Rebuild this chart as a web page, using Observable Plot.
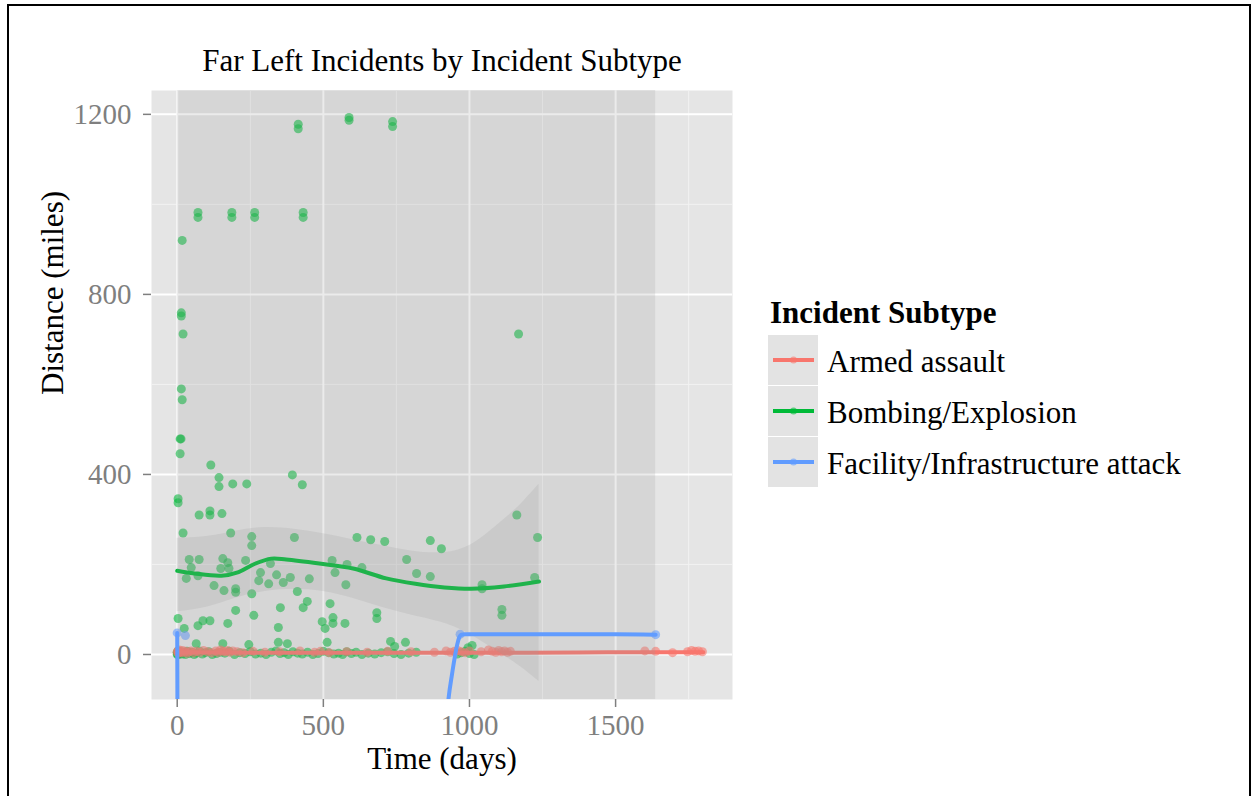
<!DOCTYPE html>
<html>
<head>
<meta charset="utf-8">
<script src="https://cdn.jsdelivr.net/npm/d3@7"></script>
<script src="https://cdn.jsdelivr.net/npm/@observablehq/plot@0.6"></script>
<style>
  html, body { margin: 0; padding: 0; background: #fff; }
  #wrap { position: relative; width: 1257px; height: 796px; overflow: hidden;
          font-family: "Liberation Serif", "Times New Roman", serif; }
  #border { position: absolute; left: 7px; top: 4px; width: 1244px; height: 900px;
            border: 2px solid #000; box-sizing: border-box; }
  #chart { position: absolute; left: 0; top: 0; }
  #legend { position: absolute; left: 760px; top: 280px; }
</style>
</head>
<body>
<div id="wrap">
  <div id="border"></div>
  <div id="chart"></div>
  <div id="legend"></div>
</div>
<script>
// ---------------- data ----------------
const title = "Far Left Incidents by Incident Subtype";
const xTitle = "Time (days)";
const yTitle = "Distance (miles)";
const legendTitle = "Incident Subtype";
const seriesNames = ["Armed assault", "Bombing/Explosion", "Facility/Infrastructure attack"];
const seriesColors = ["#F8766D", "#00BA38", "#619CFF"];

const xTicks = [0, 500, 1000, 1500];
const xMinor = [250, 750, 1250, 1750];
const yTicks = [0, 400, 800, 1200];
const yMinor = [200, 600, 1000];

// Bombing/Explosion points
const greenDays = [
  414, 414, 588, 588, 737, 737, 71, 71, 187, 187, 265, 265, 431, 431, 17,
  14, 14, 20, 14, 17, 10, 13, 10, 115, 143, 143, 190, 238, 394, 428,
  3, 3, 75, 112, 112, 153, 20, 183, 255, 255, 401, 615, 662, 710, 866,
  904, 1162, 1233, 1168, 41, 75, 156, 173, 48, 149, 177, 234, 31, 71, 126,
  160, 200, 200, 255, 285, 279, 313, 340, 319, 363, 785, 530, 581, 540, 632,
  387, 452, 577, 819, 866, 1223, 411, 445, 431, 523, 683, 683, 496, 506, 533,
  533, 574, 1043, 1043, 1111, 1111, 200, 3, 24, 71, 88, 112, 173, 262, 353,
  346, 65, 156, 245, 346, 513, 730, 781, 744, 377, 1009, 995,
  0, 0, 1, 3, 5, 8, 12, 16, 22, 28, 34, 42, 50, 58, 66, 76, 86, 96, 108, 120,
  134, 148, 163, 178, 196, 214, 232, 250, 268, 286, 304, 322, 338, 352, 366, 380, 396, 412, 428, 446,
  464, 482, 500, 518, 536, 552, 566, 580, 596, 612, 632, 654, 676, 698, 720, 742, 766, 792, 818, 958,
  972, 986, 1000, 1016
];
const greenDist = [
  1178, 1168, 1187, 1193, 1173, 1184, 971, 982, 971, 982, 971, 982, 971, 982, 920,
  759, 752, 712, 590, 566, 479, 479, 446, 421, 393, 373, 379, 379, 399, 377,
  346, 337, 310, 319, 310, 313, 270, 270, 262, 242, 260, 260, 255, 251, 253,
  235, 310, 260, 712, 211, 211, 213, 204, 193, 191, 191, 209, 169, 175, 153,
  142, 146, 138, 135, 182, 164, 157, 177, 202, 160, 211, 209, 200, 182, 193,
  171, 168, 155, 180, 173, 171, 140, 118, 104, 113, 93, 80, 73, 58, 82,
  69, 69, 155, 146, 100, 87, 98, 80, 58, 64, 75, 75, 69, 87, 104,
  60, 24, 24, 22, 27, 27, 29, 27, 18, 24, 20, 15,
  0, 5, 2, 8, 0, 3, 6, 1, 4, 0, 7, 2, 5, 0, 3, 8, 1, 4, 6, 0,
  2, 5, 3, 7, 0, 4, 2, 6, 1, 3, 0, 5, 8, 2, 4, 0, 6, 3, 1, 5,
  0, 2, 7, 4, 1, 3, 0, 6, 2, 5, 0, 3, 1, 4, 6, 2, 0, 3, 5, 1,
  4, 7, 2, 0
];

// Armed assault points
const redDays = [
  0, 2, 4, 7, 10, 14, 18, 23, 28, 34, 40, 48, 56, 66, 78, 90, 104, 118, 132, 140,
  148, 156, 164, 172, 180, 190, 205, 225, 260, 300, 350, 420, 470, 490, 520, 580, 650, 720, 800, 880,
  920, 935, 948, 960, 972, 985, 1000, 1040, 1065, 1078, 1090, 1100, 1110, 1120, 1130, 1140, 1600, 1637, 1695, 1746,
  1760, 1772, 1784, 1797
];
const redDist = [
  5, 8, 3, 10, 6, 4, 9, 5, 7, 3, 6, 8, 4, 7, 5, 9, 6, 4, 8, 5,
  10, 7, 6, 9, 5, 8, 6, 4, 7, 5, 6, 8, 5, 7, 4, 6, 5, 7, 6, 5,
  8, 5, 7, 9, 6, 4, 8, 6, 10, 7, 5, 9, 6, 8, 5, 7, 8, 7, 4, 6,
  9, 7, 8, 6
];

// Facility/Infrastructure attack points
const blueDays = [0, 28, 968, 1637];
const blueDist = [48, 42, 45, 44];

// smoothed fits
const redFitDays = [0, 300, 600, 900, 1200, 1500, 1800];
const redFit = [5, 4, 4, 4, 4, 5, 5];

const greenFitDays = [0, 59, 151, 210, 264, 322, 373, 486, 602, 715, 815, 914, 1006, 1118, 1238];
const greenFit = [186, 180, 175, 183, 201, 213, 211, 202, 191, 169, 157, 149, 146, 151, 162];

const greenBandDays = [0, 100, 200, 300, 400, 500, 600, 700, 800, 900, 1000, 1100, 1170, 1238];
const greenLo = [95, 105, 125, 140, 145, 140, 125, 105, 88, 72, 45, 5, -25, -60];
const greenHi = [258, 262, 274, 282, 278, 268, 255, 242, 230, 226, 242, 290, 330, 378];

const blueFitSeg = ["a", "a", "a", "a", "b", "b", "b", "b", "b", "b", "b", "b", "b", "b", "b", "b"];
const blueFitDays = [0, 0.3, 0.6, 1.0, 915, 928, 940, 950, 958, 965, 972, 985, 1100, 1300, 1500, 1637];
const blueFit = [48, -20, -90, -200, -200, -100, -45, -5, 22, 38, 44, 45, 45, 45, 45, 44];

// ---------------- tables ----------------
const pts = (days, dist) => days.map((d, i) => ({day: d, dist: dist[i]}));
const greenPts = pts(greenDays, greenDist);
const redPts = pts(redDays, redDist);
const bluePts = pts(blueDays, blueDist);
const redLine = redFitDays.map((d, i) => ({day: d, fit: redFit[i]}));
const greenLine = greenFitDays.map((d, i) => ({day: d, fit: greenFit[i]}));
const greenBand = greenBandDays.map((d, i) => ({day: d, lo: greenLo[i], hi: greenHi[i]}));
const blueLine = blueFitDays.map((d, i) => ({day: d, fit: blueFit[i], seg: blueFitSeg[i]}));
const blueBand = [{x1: d3.min(blueDays), x2: d3.max(blueDays)}];

const ribbon = "#999999";
const ribbonOpacity = 0.2;
const lineW = 4;
const dotR = 4.5;
const dotOpacity = 0.6;
const fmt = d => String(d);

const chart = Plot.plot({
  width: 760,
  height: 796,
  marginLeft: 151,
  marginRight: 28,
  marginTop: 90,
  marginBottom: 97,
  x: {domain: [-88, 1900]},
  y: {domain: [-100, 1253]},
  style: {fontFamily: '"Liberation Serif", "Times New Roman", serif', background: "transparent", color: "#7f7f7f"},
  marks: [
    Plot.frame({fill: "#E5E5E5", stroke: null}),
    Plot.gridX(xMinor, {stroke: "#F2F2F2", strokeOpacity: 1, strokeWidth: 1}),
    Plot.gridY(yMinor, {stroke: "#F2F2F2", strokeOpacity: 1, strokeWidth: 1}),
    Plot.gridX(xTicks, {stroke: "#FFFFFF", strokeOpacity: 1, strokeWidth: 2}),
    Plot.gridY(yTicks, {stroke: "#FFFFFF", strokeOpacity: 1, strokeWidth: 2}),
    Plot.axisX(xTicks, {tickSize: 8, tickPadding: 7, fontSize: 29, color: "#7f7f7f", strokeWidth: 1.5, tickFormat: fmt, label: null}),
    Plot.axisY(yTicks, {tickSize: 8, tickPadding: 12, fontSize: 29, color: "#7f7f7f", strokeWidth: 1.5, tickFormat: fmt, label: null}),
    // points
    Plot.dot(greenPts, {x: "day", y: "dist", r: dotR, fill: seriesColors[1], fillOpacity: dotOpacity, stroke: null, clip: true}),
    Plot.dot(redPts, {x: "day", y: "dist", r: dotR, fill: seriesColors[0], fillOpacity: dotOpacity, stroke: null, clip: true}),
    Plot.dot(bluePts, {x: "day", y: "dist", r: dotR, fill: seriesColors[2], fillOpacity: dotOpacity, stroke: null, clip: true}),
    // smooths (ggplot draws ribbon + line per group)
    Plot.line(redLine, {x: "day", y: "fit", stroke: seriesColors[0], strokeWidth: lineW, curve: "monotone-x", clip: true}),
    Plot.areaY(greenBand, {x: "day", y1: "lo", y2: "hi", fill: ribbon, fillOpacity: ribbonOpacity, curve: "natural", clip: true}),
    Plot.line(greenLine, {x: "day", y: "fit", stroke: seriesColors[1], strokeWidth: lineW, curve: "catmull-rom", clip: true}),
    Plot.rect(blueBand, {x1: "x1", x2: "x2", fill: ribbon, fillOpacity: ribbonOpacity, clip: true}),
    Plot.line(blueLine, {x: "day", y: "fit", z: "seg", stroke: seriesColors[2], strokeWidth: lineW, curve: "monotone-x", clip: true}),
    // titles
    Plot.text([title], {frameAnchor: "top", dy: -20, lineAnchor: "bottom", fontSize: 31, fill: "#000"}),
    Plot.text([xTitle], {frameAnchor: "bottom", dy: 69, lineAnchor: "bottom", fontSize: 31, fill: "#000"}),
    Plot.text([yTitle], {frameAnchor: "left", dx: -89, rotate: -90, lineAnchor: "bottom", fontSize: 31, fill: "#000"})
  ]
});
document.getElementById("chart").appendChild(chart);

// ---------------- legend ----------------
const lg = d3.select("#legend").append("svg")
  .attr("width", 497).attr("height", 230)
  .style("font-family", '"Liberation Serif", "Times New Roman", serif');
lg.append("text").attr("x", 10).attr("y", 43)
  .attr("font-size", 31).attr("font-weight", "bold").attr("fill", "#000").text(legendTitle);
seriesNames.forEach((name, i) => {
  const top = 55 + i * 51;
  lg.append("rect").attr("x", 8).attr("y", top).attr("width", 50).attr("height", 50).attr("fill", "#E3E3E3");
  lg.append("line").attr("x1", 13).attr("x2", 54).attr("y1", top + 25).attr("y2", top + 25)
    .attr("stroke", seriesColors[i]).attr("stroke-width", lineW);
  lg.append("circle").attr("cx", 33.5).attr("cy", top + 25).attr("r", 3.5)
    .attr("fill", seriesColors[i]).attr("fill-opacity", 0.6);
  lg.append("text").attr("x", 67).attr("y", top + 37)
    .attr("font-size", 31).attr("fill", "#000").text(name);
});
</script>
</body>
</html>
